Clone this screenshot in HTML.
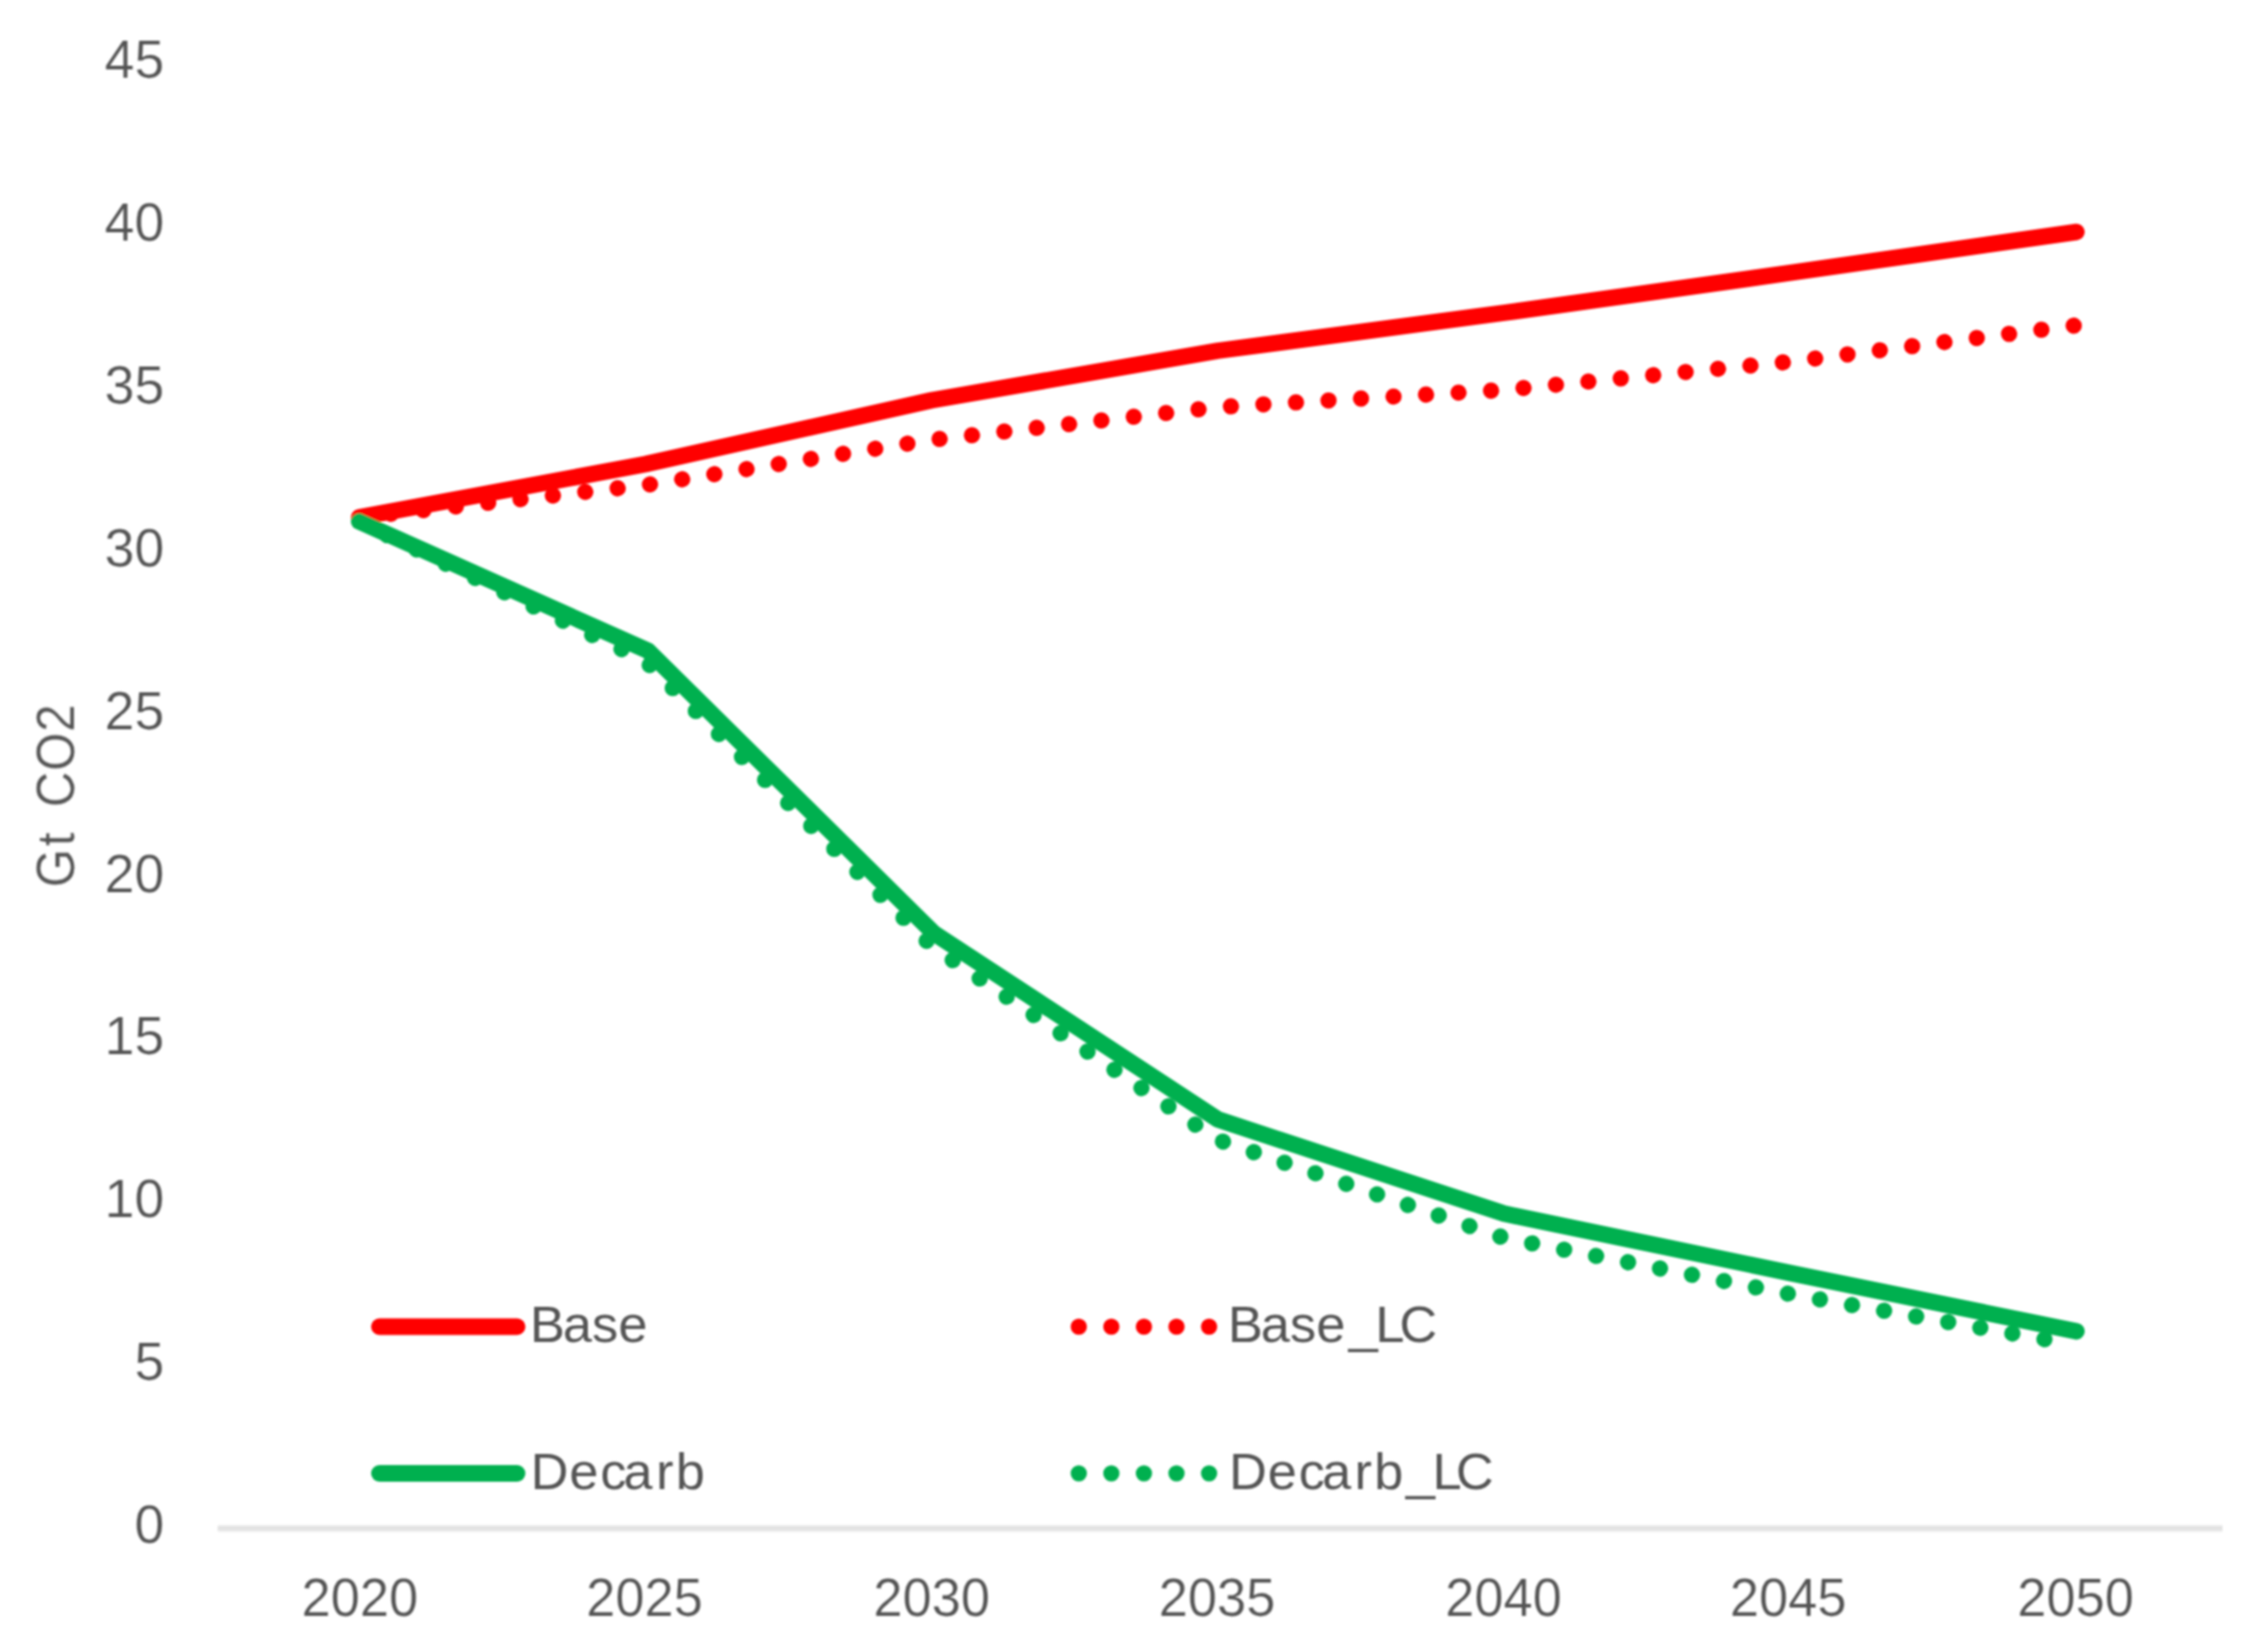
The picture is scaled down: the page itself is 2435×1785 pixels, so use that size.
<!DOCTYPE html>
<html lang="en">
<head>
<meta charset="utf-8">
<title>Gt CO2 emissions chart</title>
<style>
html,body{margin:0;padding:0;background:#fff;}
body{width:2435px;height:1785px;overflow:hidden;}
svg{display:block;}
text{font-family:"Liberation Sans",sans-serif;fill:#545454;stroke:#ffffff;stroke-width:0.2px;}
.ax{font-size:57.9px;}
.lg{font-size:55.5px;stroke-width:0;}
.ln{fill:none;stroke-width:17.8;stroke-linecap:round;stroke-linejoin:round;}
.dt{fill:none;stroke-width:17.6;stroke-linecap:round;stroke-linejoin:round;stroke-dasharray:0.01 35.18;}
.r{stroke:#FF0000;}
.g{stroke:#00B050;}
</style>
</head>
<body>
<svg width="2435" height="1785" viewBox="0 0 2435 1785">
<defs><filter id="soft" x="0" y="0" width="2435" height="1785" filterUnits="userSpaceOnUse"><feGaussianBlur stdDeviation="1.25"/></filter></defs>
<rect x="0" y="0" width="2435" height="1785" fill="#ffffff"/>
<g id="chart" filter="url(#soft)">
<line x1="235.4" y1="1651.4" x2="2401" y2="1651.4" stroke="#F1F1F1" stroke-width="8"/>
<line x1="235.4" y1="1651.4" x2="2401" y2="1651.4" stroke="#E2E2E2" stroke-width="4.6"/>

<text class="ax" x="177.5" y="84.2" text-anchor="end">45</text>
<text class="ax" x="177.5" y="260.1" text-anchor="end">40</text>
<text class="ax" x="177.5" y="435.9" text-anchor="end">35</text>
<text class="ax" x="177.5" y="611.8" text-anchor="end">30</text>
<text class="ax" x="177.5" y="787.7" text-anchor="end">25</text>
<text class="ax" x="177.5" y="963.6" text-anchor="end">20</text>
<text class="ax" x="177.5" y="1139.4" text-anchor="end">15</text>
<text class="ax" x="177.5" y="1315.3" text-anchor="end">10</text>
<text class="ax" x="177.5" y="1491.2" text-anchor="end">5</text>
<text class="ax" x="177.5" y="1667.0" text-anchor="end">0</text>
<text class="ax" x="388.8" y="1746.0" text-anchor="middle" textLength="126" lengthAdjust="spacingAndGlyphs">2020</text>
<text class="ax" x="696.2" y="1746.0" text-anchor="middle" textLength="126" lengthAdjust="spacingAndGlyphs">2025</text>
<text class="ax" x="1006.5" y="1746.0" text-anchor="middle" textLength="126" lengthAdjust="spacingAndGlyphs">2030</text>
<text class="ax" x="1314.7" y="1746.0" text-anchor="middle" textLength="126" lengthAdjust="spacingAndGlyphs">2035</text>
<text class="ax" x="1624.2" y="1746.0" text-anchor="middle" textLength="126" lengthAdjust="spacingAndGlyphs">2040</text>
<text class="ax" x="1931.7" y="1746.0" text-anchor="middle" textLength="126" lengthAdjust="spacingAndGlyphs">2045</text>
<text class="ax" x="2242.2" y="1746.0" text-anchor="middle" textLength="126" lengthAdjust="spacingAndGlyphs">2050</text>
<text class="ax" transform="translate(79.9,955.1) rotate(-90) scale(0.92,1)" x="-4.0 44.5 60.6 90.2 132.9 178.8" y="0" xml:space="preserve">Gt CO2</text>
<polyline class="ln r" points="388.0,559.0 697.2,501.5 1006.4,432.5 1315.6,379.0 1624.8,338.0 1934.0,294.8 2243.2,250.6"/>
<polyline class="dt r" stroke-dashoffset="0.5" points="388.0,559.0 697.2,524.2 1006.4,475.3 1315.6,439.9 1624.8,421.3 1934.0,390.8 2243.2,351.5"/>
<polyline class="ln g" points="388.0,563.5 700.0,703.2 1008.6,1008.1 1315.6,1209.5 1624.8,1311.3 1934.0,1375.5 2243.2,1438.5"/>
<polyline class="dt g" stroke-dashoffset="1.5" points="388.0,563.5 697.2,714.0 1006.4,1022.0 1315.6,1231.6 1624.8,1337.5 1934.0,1398.3 2243.2,1453.1"/>
<line class="ln r" x1="409.8" y1="1433.5" x2="558.7" y2="1433.5"/>
<line class="ln g" x1="409.8" y1="1592" x2="558.7" y2="1592"/>
<line class="dt r" x1="1165.4" y1="1433.5" x2="1310" y2="1433.5"/>
<line class="dt g" x1="1165.4" y1="1592" x2="1310" y2="1592"/>
<text class="lg" transform="translate(0,1450) scale(1.02,1)" x="561.3 596.0 627.0 655.0" y="0" xml:space="preserve">Base</text>
<text class="lg" transform="translate(0,1609) scale(1.02,1)" x="562.1 603.0 635.7 660.4 694.9 715.8" y="0" xml:space="preserve">Decarb</text>
<text class="lg" transform="translate(0,1450) scale(1.02,1)" x="1300.5 1335.3 1366.3 1394.2 1428.5 1456.7 1482.2" y="0" xml:space="preserve">Base_LC</text>
<text class="lg" transform="translate(0,1609) scale(1.02,1)" x="1301.8 1342.7 1375.4 1400.2 1434.6 1455.5 1488.9 1517.1 1541.9" y="0" xml:space="preserve">Decarb_LC</text>
</g>
</svg>
</body>
</html>
